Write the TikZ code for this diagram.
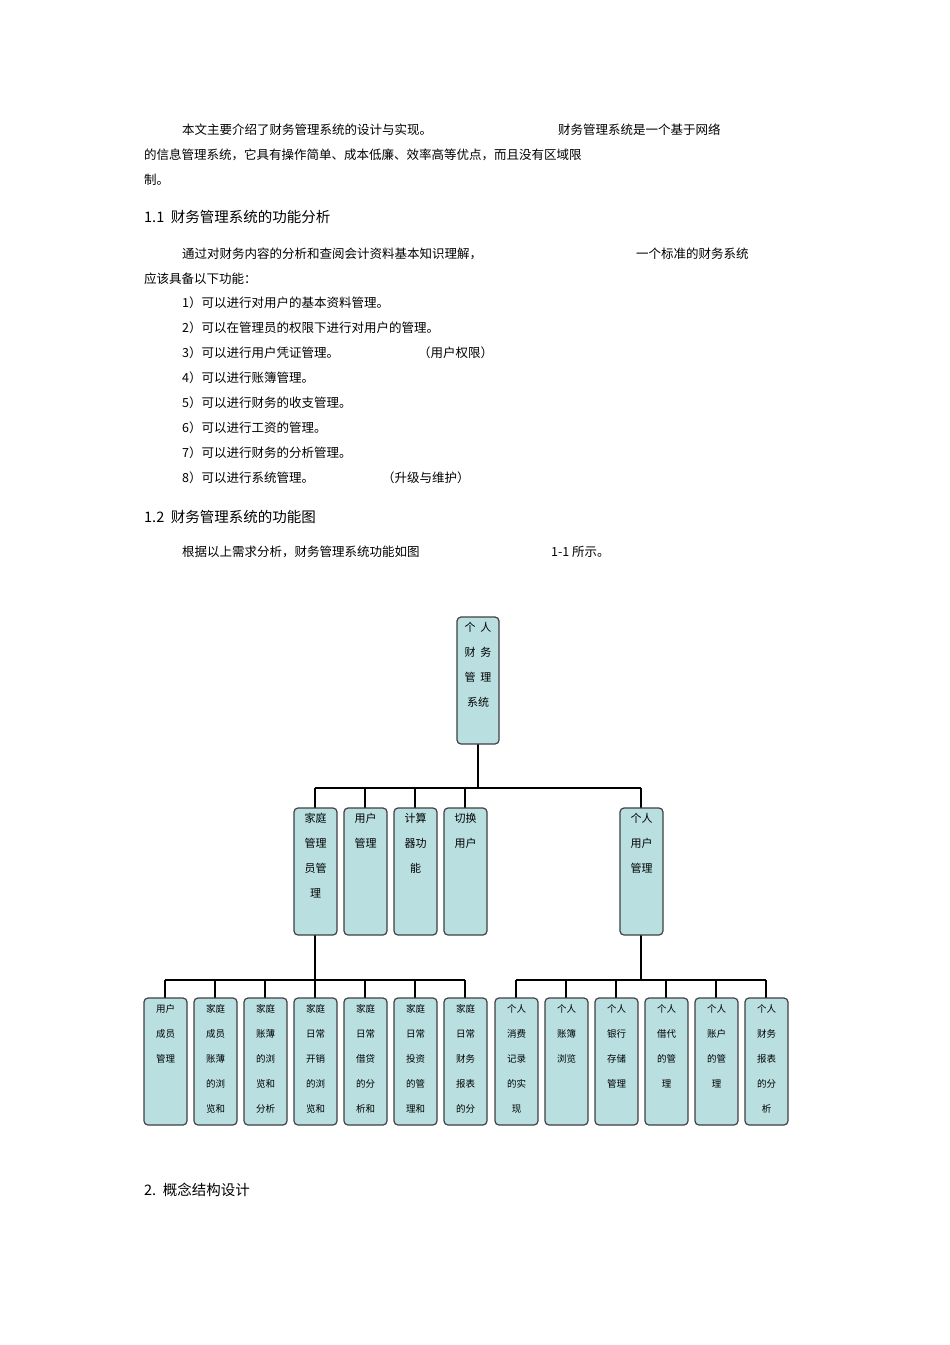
\documentclass[tikz,border=0pt]{standalone}
\usepackage{fontspec}
\setmainfont{Noto Sans CJK SC}
\begin{document}
\begin{tikzpicture}[x=1pt,y=-1pt,
  bx/.style={draw=black!75,line width=1.2pt,fill=boxc,rounded corners=4pt},
  t/.style={anchor=west,inner sep=0pt,font=\fontsize{12.5}{14}\selectfont},
  h/.style={anchor=west,inner sep=0pt,font=\fontsize{14.5}{17}\selectfont},
  bt/.style={anchor=north,inner sep=0pt,align=center,font=\fontsize{11}{19}\selectfont},
  ln/.style={line width=2.2pt}]
\definecolor{boxc}{HTML}{B9DFE1}
\useasboundingbox (0,0) rectangle (950,1345);
\fill[white] (0,0) rectangle (950,1345);
% text
\node[t] (p1a) at (182,130) {本文主要介绍了财务管理系统的设计与实现。};
\node[t] (p1b) at (558,130) {财务管理系统是一个基于网络};
\node[t] (p2) at (144,155) {的信息管理系统，它具有操作简单、成本低廉、效率高等优点，而且没有区域限};
\node[t] (p3) at (144,180) {制。};
\node[h] (h1) at (144,217) {1.1\ \ 财务管理系统的功能分析};
\node[t] (q1a) at (182,254) {通过对财务内容的分析和查阅会计资料基本知识理解，};
\node[t] (q1b) at (636,254) {一个标准的财务系统};
\node[t] (q2) at (144,279) {应该具备以下功能：};
\node[t] (l1) at (182,303) {1）可以进行对用户的基本资料管理。};
\node[t] (l2) at (182,328) {2）可以在管理员的权限下进行对用户的管理。};
\node[t] (l3) at (182,353) {3）可以进行用户凭证管理。};
\node[t] (l3b) at (418,353) {（用户权限）};
\node[t] (l4) at (182,378) {4）可以进行账簿管理。};
\node[t] (l5) at (182,403) {5）可以进行财务的收支管理。};
\node[t] (l6) at (182,428) {6）可以进行工资的管理。};
\node[t] (l7) at (182,453) {7）可以进行财务的分析管理。};
\node[t] (l8) at (182,478) {8）可以进行系统管理。};
\node[t] (l8b) at (382,478) {（升级与维护）};
\node[h] (h2) at (144,517) {1.2\ \ 财务管理系统的功能图};
\node[t] (r1) at (182,552) {根据以上需求分析，财务管理系统功能如图};
\node[t] (r2) at (551,552) {1-1 所示。};
\node[h] (h3) at (144,1190) {2.\ \ 概念结构设计};
% connectors
\coordinate (b1) at (478,788);
\coordinate (b2) at (315,980);
\coordinate (b3) at (641,980);
\draw[ln] (478,744) -- (b1);
\draw[ln] (315,788) -- (641,788);
\foreach \x in {315,365,415,465,641} \draw[ln] (\x,788) -- (\x,808);
\draw[ln] (315,935) -- (b2);
\draw[ln] (641,935) -- (b3);
\draw[ln] (165,980) -- (465,980);
\draw[ln] (516,980) -- (766,980);
\foreach \x in {165,215,265,315,365,415,465,516,566,616,666,716,766} \draw[ln] (\x,980) -- (\x,998);
% top box
\draw[bx] (457,617) rectangle (499,744);
\node[bt,font=\fontsize{11}{25}\selectfont] (top) at (478,622) {个\ \ 人\\财\ \ 务\\管\ \ 理\\系统};
% level 2
\foreach \x/\s [count=\i] in {294/{家庭\\管理\\员管\\理},344/{用户\\管理},394/{计算\\器功\\能},444/{切换\\用户},620/{个人\\用户\\管理}}{
  \draw[bx] (\x,808) rectangle ++(43,127);
  \node[bt,font=\fontsize{11}{25}\selectfont] (m\i) at (\x+21.5,813) {\s};
}
% level 3
\foreach \x/\s [count=\i] in {144/{用户\\成员\\管理},194/{家庭\\成员\\账薄\\的浏\\览和},244/{家庭\\账薄\\的浏\\览和\\分析},294/{家庭\\日常\\开销\\的浏\\览和},344/{家庭\\日常\\借贷\\的分\\析和},394/{家庭\\日常\\投资\\的管\\理和},444/{家庭\\日常\\财务\\报表\\的分},495/{个人\\消费\\记录\\的实\\现},545/{个人\\账簿\\浏览},595/{个人\\银行\\存储\\管理},645/{个人\\借代\\的管\\理},695/{个人\\账户\\的管\\理},745/{个人\\财务\\报表\\的分\\析}}{
  \draw[bx] (\x,998) rectangle ++(43,127);
  \node[bt,font=\fontsize{9.5}{25}\selectfont] (s\i) at (\x+21.5,1004) {\s};
}
\end{tikzpicture}
\end{document}
